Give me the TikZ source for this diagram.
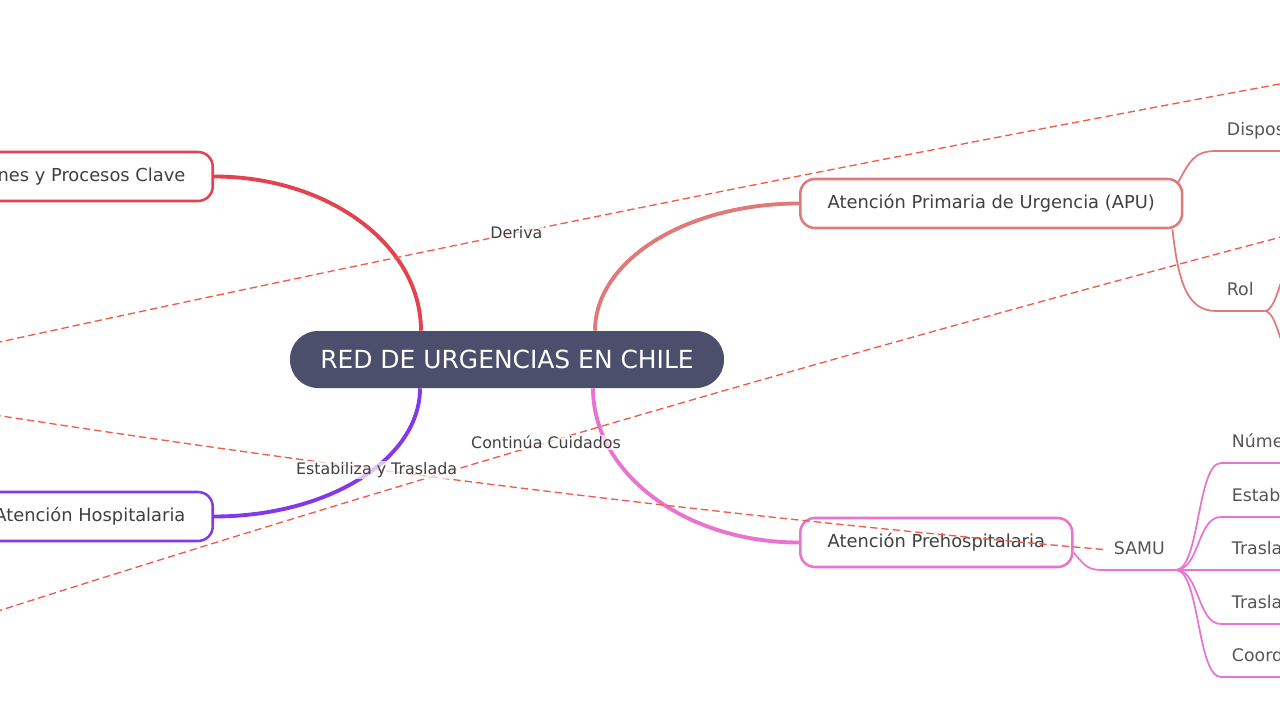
\documentclass[tikz,border=0pt]{standalone}
\usepackage{fontspec}
\setmainfont{DejaVu Sans}
\usepackage{xcolor}
\usetikzlibrary{positioning, calc}

\definecolor{hubfill}{HTML}{4B4F6B}
\definecolor{redb}{HTML}{E2434F}
\definecolor{purb}{HTML}{8338EC}
\definecolor{salb}{HTML}{E07A7A}
\definecolor{pinkb}{HTML}{E974CF}
\definecolor{relcol}{HTML}{EF5B4C}
\definecolor{txtgray}{HTML}{404040}
\definecolor{leafgray}{HTML}{555555}

\begin{document}
\begin{tikzpicture}[x=0.75pt, y=-0.75pt,
  hubnode/.style={fill=hubfill, text=white, rounded corners=21pt, minimum width=325.5pt, minimum height=42.75pt, font=\fontsize{18.7}{22}\selectfont},
  topic/.style={draw, fill=white, line width=1.9pt, rounded corners=11pt, minimum height=36.75pt, inner xsep=20.5pt, text=txtgray, font=\fontsize{13.4}{16}\selectfont},
  leaf/.style={anchor=south west, inner xsep=8pt, inner ysep=8.7pt, text height=10pt, text depth=3pt, text=leafgray, font=\fontsize{13}{15}\selectfont},
  trunk/.style={line width=2.9pt},
  twig/.style={line width=1.3pt},
  relation/.style={relcol, line width=1pt, dash pattern=on 5.5pt off 3pt},
  rellabel/.style={fill=white, fill opacity=0.7, text opacity=1, inner sep=1pt, text=txtgray, font=\fontsize{11.9}{14}\selectfont}]
\fill[white] (0,0) rectangle (1280,720);
\clip (0,0) rectangle (1280,720);

% Centre and main topics
\node[hubnode] (hub) at (507,359.5) {RED DE URGENCIAS EN CHILE};
\node[topic, draw=redb, anchor=east] (proc) at (214,176.5) {Funciones y Procesos Clave};
\node[topic, draw=purb, anchor=east] (hosp) at (214,516.5) {Atención Hospitalaria};
\node[topic, draw=salb, anchor=west] (apu) at (799,203.5) {Atención Primaria de Urgencia (APU)};
\node[topic, draw=pinkb, anchor=west] (preh) at (799,542.5) {Atención Prehospitalaria};

\draw[trunk, redb] ($(hub.north)+(-86,0)$) .. controls +(0,-86) and +(114,0) .. (proc.east);
\draw[trunk, purb] ($(hub.south)+(-87,0)$) .. controls +(0,71) and +(114,0) .. (hosp.east);
\draw[trunk, salb] ($(hub.north)+(88,0)$) .. controls +(0,-70) and +(-113,0) .. (apu.west);
\draw[trunk, pinkb] ($(hub.south)+(86,0)$) .. controls +(0,85) and +(-114,0) .. (preh.west);

% APU
\node[leaf] (disp) at (1216,151) {Disposición};
\node[leaf] (rol) at (1216,311) {Rol};
\coordinate (rolUp) at (1296,258);
\coordinate (rolDown) at (1296,364);
\draw[twig, salb] ($(apu.north east)+(-6,6)$) .. controls +(12,-22) and +(-22,0) .. (disp.south west) -- (disp.south east);
\draw[twig, salb] ($(apu.south east)+(-11,0)$) .. controls +(6,55) and +(-28,0) .. (rol.south west) -- (rol.south east);
\draw[twig, salb] (rol.south east) .. controls +(14,0) and +(-14,0) .. (rolUp);
\draw[twig, salb] (rol.south east) .. controls +(14,0) and +(-14,0) .. (rolDown);

% Prehospitalaria
\node[leaf] (samu) at (1103,570) {SAMU};
\draw[twig, pinkb] ($(preh.east)+(0,10)$) .. controls +(12,14) and +(-15,0) .. (samu.south west) -- (samu.south east);
\foreach \name/\y/\txt in {num/463/Número 131, estab/517/Establecimientos, trasP/570/Traslado Primario, trasS/624/Traslado Secundario, coord/677/Coordinación} {
    \node[leaf] (\name) at (1221,\y) {\txt};
    \draw[twig, pinkb] (samu.south east) .. controls +(24,0) and +(-24,0) .. (\name.south west) -- (\name.south east);
}

% Relations
\coordinate (derivaA) at (-5,343);
\coordinate (derivaB) at (1285,83);
\coordinate (contA) at (-5,612);
\coordinate (contB) at (1285,236);
\coordinate (estabA) at (-5,415);
\draw[relation] (derivaA) .. controls (427,249) and (853,163) .. node[rellabel, pos=0.404] (lblDeriva) {Deriva} (derivaB);
\draw[relation] (contA) .. controls (427,474) and (853,350) .. node[rellabel, pos=0.427] (lblCont) {Continúa Cuidados} (contB);
\draw[relation] (samu.west) .. controls (742,518) and (371,473) .. node[rellabel, pos=0.66] (lblEstab) {Estabiliza y Traslada} (estabA);
\end{tikzpicture}
\end{document}
